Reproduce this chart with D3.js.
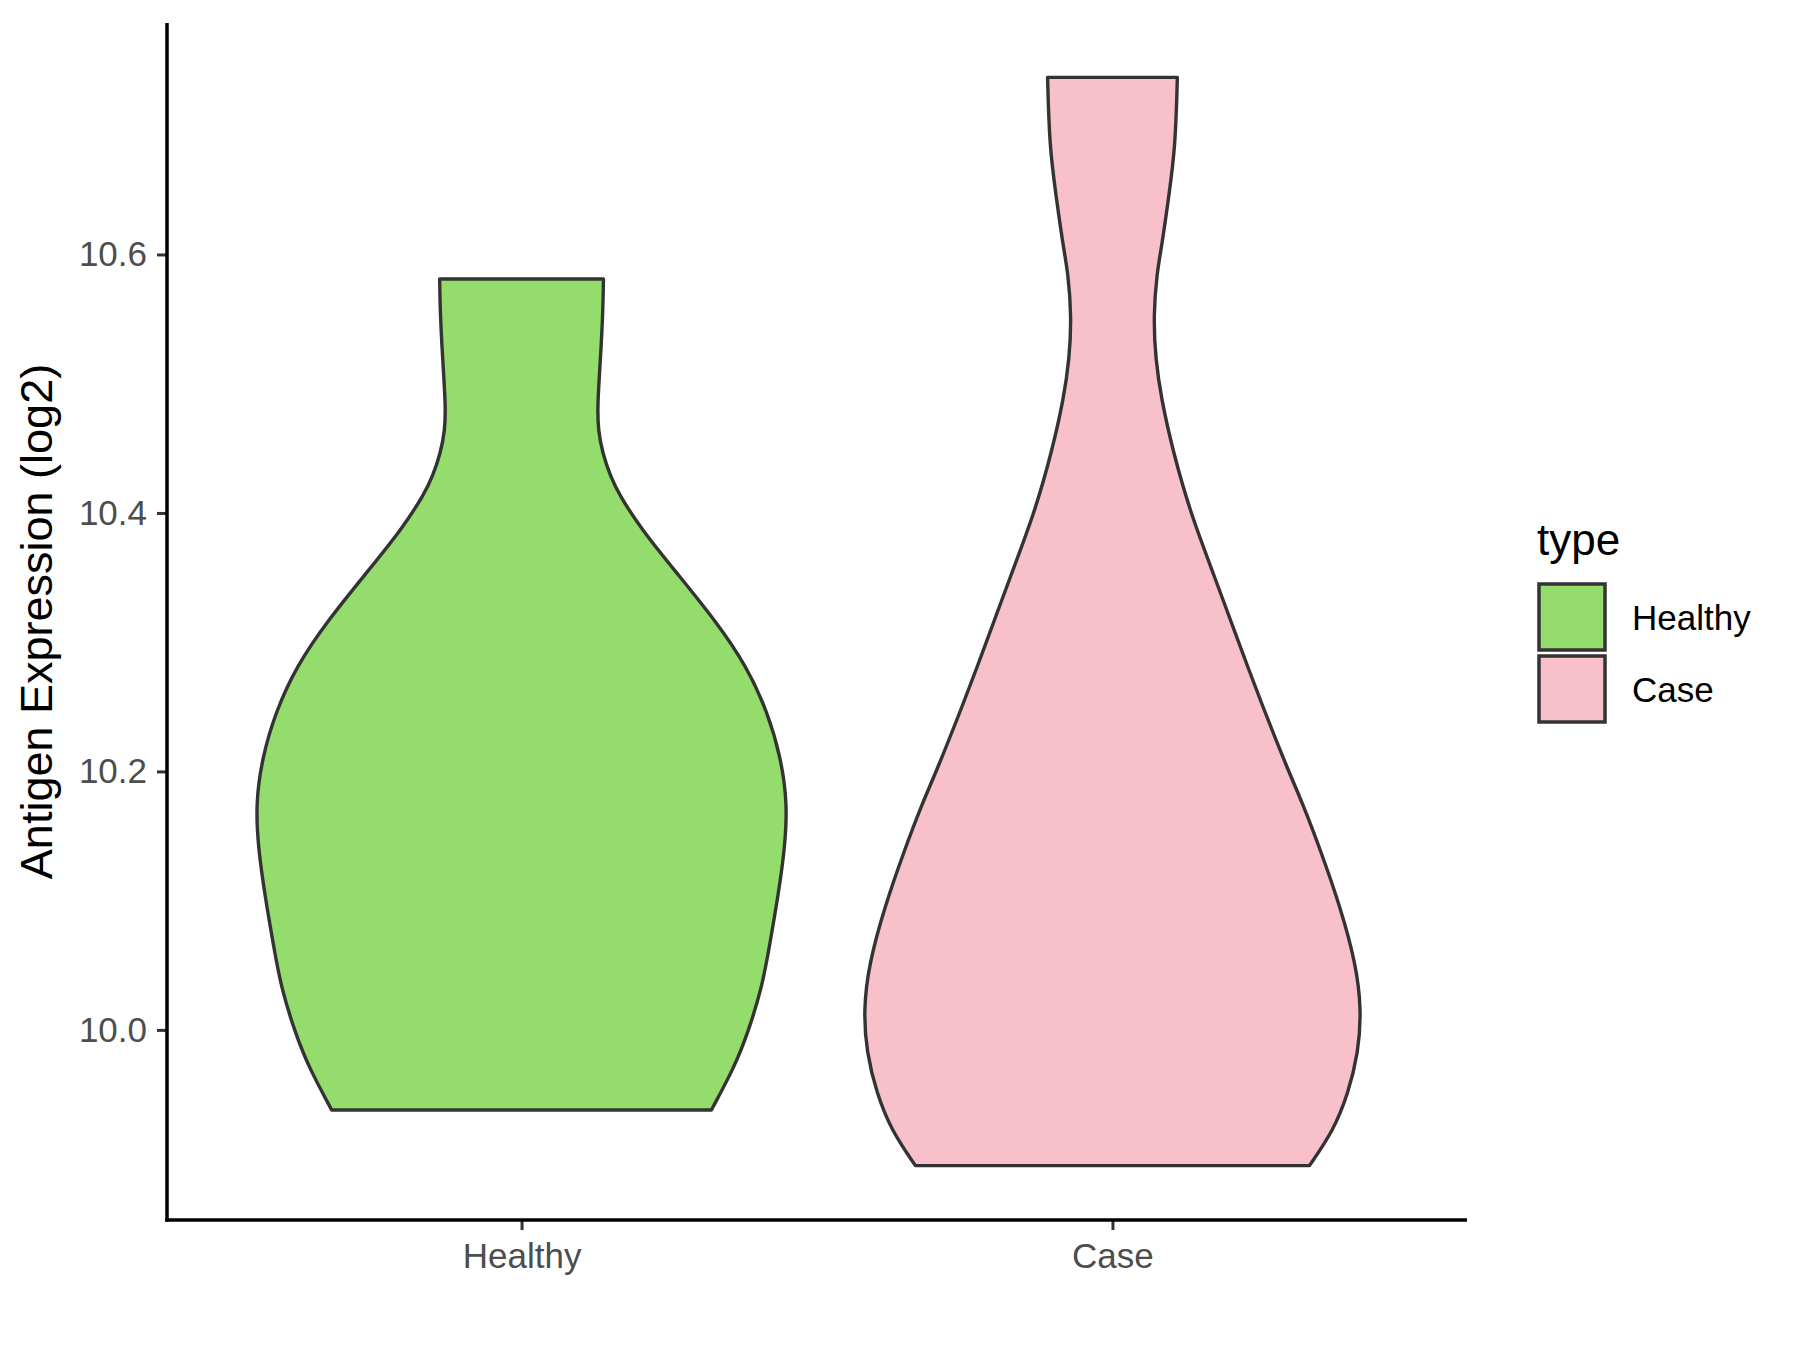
<!DOCTYPE html>
<html>
<head>
<meta charset="utf-8">
<script src="https://cdn.jsdelivr.net/npm/d3@7"></script>
<style>
  html, body { margin: 0; padding: 0; background: #ffffff; }
  svg { display: block; }
  text { font-family: "Liberation Sans", Arial, Helvetica, sans-serif; }
</style>
</head>
<body>
<svg id="chart" width="1800" height="1350"></svg>
<script>
// ---- data ----
const categories = ["Healthy", "Case"];
const fillColors = ["#94DC6B", "#F7C0CB"];
const yTicks = [10.0, 10.2, 10.4, 10.6];
const yTickLabels = ["10.0", "10.2", "10.4", "10.6"];

// Healthy violin: expression level and relative density (half-width)
const healthyValues = [10.581, 10.557, 10.531, 10.504, 10.482, 10.464, 10.446, 10.428, 10.415, 10.388,
                       10.353, 10.317, 10.282, 10.246, 10.211, 10.175, 10.140, 10.104, 10.068, 10.033,
                       9.997, 9.971, 9.938];
const healthyDensity = [0.308, 0.306, 0.300, 0.292, 0.286, 0.288, 0.305, 0.335, 0.365, 0.448,
                        0.586, 0.728, 0.845, 0.925, 0.975, 1.000, 0.990, 0.965, 0.935, 0.905,
                        0.850, 0.800, 0.714];

// Case violin
const caseValues = [10.737, 10.684, 10.645, 10.607, 10.586, 10.552, 10.519, 10.488, 10.449, 10.400,
                    10.353, 10.300, 10.255, 10.200, 10.176, 10.137, 10.095, 10.050, 10.015, 9.983,
                    9.951, 9.922, 9.895];
const caseDensity = [0.244, 0.237, 0.212, 0.186, 0.167, 0.154, 0.162, 0.184, 0.226, 0.293,
                     0.380, 0.474, 0.556, 0.662, 0.714, 0.786, 0.857, 0.917, 0.936, 0.925,
                     0.887, 0.831, 0.741];

const yTitle = "Antigen Expression (log2)";
const legendTitle = "type";

// ---- layout ----
const panel = { left: 167, right: 1467, top: 23, bottom: 1220 };
const svg = d3.select("#chart");

const series = [
  { name: categories[0], fill: fillColors[0], pts: healthyValues.map((v, i) => ({ v, d: healthyDensity[i] })) },
  { name: categories[1], fill: fillColors[1], pts: caseValues.map((v, i) => ({ v, d: caseDensity[i] })) }
];

const allV = healthyValues.concat(caseValues);
const vMin = d3.min(allV), vMax = d3.max(allV);
const pad = (vMax - vMin) * 0.05;

const x = d3.scalePoint().domain(categories).range([panel.left, panel.right]).padding(0.6);
const y = d3.scaleLinear().domain([vMin - pad, vMax + pad]).range([panel.bottom, panel.top]);
const w = d3.scaleLinear().domain([0, 1]).range([0, 0.45 * x.step()]);

// ---- violins ----
series.forEach(s => {
  const cx = x(s.name);
  const pts = s.pts.slice().sort((a, b) => b.v - a.v); // top to bottom
  const area = d3.area()
    .y(p => y(p.v))
    .x0(p => cx - w(p.d))
    .x1(p => cx + w(p.d))
    .curve(d3.curveBasis);
  svg.append("path")
    .attr("d", area(pts))
    .attr("fill", s.fill)
    .attr("stroke", "#333333")
    .attr("stroke-width", 3.4)
    .attr("stroke-linejoin", "round");
});

// ---- axes ----
const yAxis = d3.axisLeft(y).tickValues(yTicks).tickFormat((d, i) => yTickLabels[i]).tickSize(10).tickPadding(10);
const gy = svg.append("g").attr("transform", `translate(${panel.left},0)`).call(yAxis);
gy.select(".domain").remove();
gy.selectAll(".tick line").attr("stroke", "#333333").attr("stroke-width", 3);
gy.selectAll(".tick text").attr("fill", "#4D4D4D").style("font-size", "35px")
  .style("font-family", "'Liberation Sans', Arial, sans-serif");

const xAxis = d3.axisBottom(x).tickSize(10).tickPadding(13);
const gx = svg.append("g").attr("transform", `translate(0,${panel.bottom})`).call(xAxis);
gx.select(".domain").remove();
gx.selectAll(".tick line").attr("stroke", "#333333").attr("stroke-width", 3);
gx.selectAll(".tick text").attr("fill", "#4D4D4D").style("font-size", "35px")
  .style("font-family", "'Liberation Sans', Arial, sans-serif");

// axis lines
svg.append("line").attr("x1", panel.left).attr("x2", panel.left)
  .attr("y1", panel.top).attr("y2", panel.bottom + 1.75)
  .attr("stroke", "#000").attr("stroke-width", 3.5);
svg.append("line").attr("x1", panel.left - 1.75).attr("x2", panel.right)
  .attr("y1", panel.bottom).attr("y2", panel.bottom)
  .attr("stroke", "#000").attr("stroke-width", 3.5);

// y title
svg.append("text")
  .attr("transform", `translate(52,${(panel.top + panel.bottom) / 2}) rotate(-90)`)
  .attr("text-anchor", "middle")
  .attr("fill", "#000")
  .style("font-size", "45px")
  .text(yTitle);

// ---- legend ----
const lg = svg.append("g");
lg.append("text").attr("x", 1537).attr("y", 555).attr("fill", "#000")
  .style("font-size", "44px").text(legendTitle);
series.forEach((s, i) => {
  const top = 584 + i * 72;
  lg.append("rect").attr("x", 1539).attr("y", top).attr("width", 66).attr("height", 66)
    .attr("fill", s.fill).attr("stroke", "#333333").attr("stroke-width", 3.5);
  lg.append("text").attr("x", 1632).attr("y", top + 33 + 12.5).attr("fill", "#000")
    .style("font-size", "35px").text(s.name);
});
</script>
</body>
</html>
